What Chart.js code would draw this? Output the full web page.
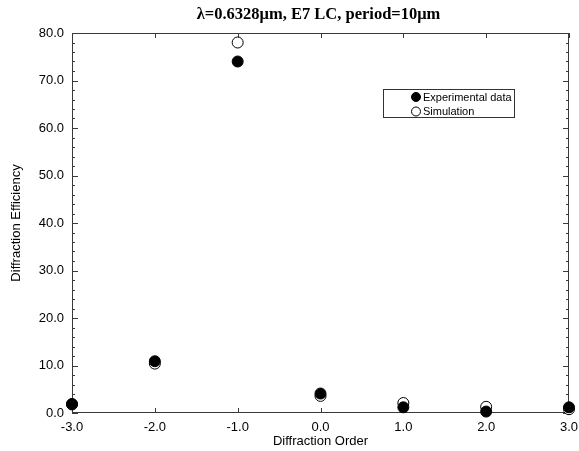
<!DOCTYPE html>
<html>
<head>
<meta charset="utf-8">
<script src="https://cdn.jsdelivr.net/npm/chart.js@4.4.1/dist/chart.umd.min.js"></script>
<style>
  html, body { margin: 0; padding: 0; background: #fff; }
  #wrap { width: 579px; height: 451px; }
</style>
</head>
<body>
<div id="wrap"><canvas id="c" width="579" height="451"></canvas></div>
<script>
// Diffraction orders and efficiencies (%)
const orders = [-3, -2, -1, 0, 1, 2, 3];
const experimental = [1.9, 10.9, 74.0, 4.1, 1.2, 0.3, 1.2];
const simulation = [1.8, 10.4, 78.0, 3.6, 2.1, 1.3, 0.8];

const seriesLabels = ['Experimental data', 'Simulation'];
const chartTitle = 'λ=0.6328μm, E7 LC, period=10μm';
const xTitle = 'Diffraction Order';
const yTitle = 'Diffraction Efficiency';

const xRange = [-3, 3];
const yRange = [0, 80];
const xStep = 1;
const yStep = 10;
const yMinorStep = 2;

const toPoints = vals => orders.map((o, i) => ({ x: o, y: vals[i] }));

const sansFont = "'Liberation Sans', Arial, sans-serif";

// Frame with inward-pointing ticks on all four sides
const framePlugin = {
  id: 'frame',
  beforeDatasetsDraw(chart) {
    const { ctx, chartArea: a, scales: { x, y } } = chart;
    ctx.save();
    ctx.strokeStyle = '#3a3a3a';
    ctx.lineWidth = 1;
    ctx.strokeRect(a.left + 0.5, a.top + 0.5, a.right - a.left - 1, a.bottom - a.top - 1);
    ctx.beginPath();
    for (let v = yRange[0]; v <= yRange[1] + 1e-9; v += yMinorStep) {
      const py = Math.round(y.getPixelForValue(v)) + 0.5;
      const len = (Math.abs(v % yStep) < 1e-9) ? 6 : 3;
      ctx.moveTo(a.left, py); ctx.lineTo(a.left + len, py);
      ctx.moveTo(a.right, py); ctx.lineTo(a.right - len, py);
    }
    for (let v = xRange[0]; v <= xRange[1] + 1e-9; v += xStep) {
      const px = Math.round(x.getPixelForValue(v)) + 0.5;
      ctx.moveTo(px, a.bottom); ctx.lineTo(px, a.bottom - 5);
      ctx.moveTo(px, a.top); ctx.lineTo(px, a.top + 5);
    }
    ctx.stroke();
    ctx.restore();
  }
};

// Title centred over the plotting area
const titlePlugin = {
  id: 'areaTitle',
  afterDraw(chart) {
    const { ctx, chartArea: a } = chart;
    ctx.save();
    ctx.fillStyle = '#000';
    ctx.font = "bold 16.5px 'Liberation Serif', 'Times New Roman', serif";
    ctx.textAlign = 'center';
    ctx.textBaseline = 'middle';
    ctx.fillText(chartTitle, (a.left + a.right) / 2 - 2, 15);
    ctx.restore();
  }
};

// Boxed legend inside the plotting area
const boxLegendPlugin = {
  id: 'boxLegend',
  afterDraw(chart, args, opts) {
    const { ctx } = chart;
    const b = opts.box;
    ctx.save();
    ctx.fillStyle = '#fff';
    ctx.fillRect(b.x, b.y, b.w, b.h);
    ctx.strokeStyle = '#333';
    ctx.lineWidth = 1;
    ctx.strokeRect(b.x + 0.5, b.y + 0.5, b.w, b.h);
    ctx.font = "11px " + sansFont;
    ctx.textBaseline = 'middle';
    ctx.textAlign = 'left';
    chart.data.datasets.forEach((ds, i) => {
      const cy = b.y + 8 + i * 14.5;
      ctx.beginPath();
      ctx.arc(b.markerX, cy, 4.5, 0, Math.PI * 2);
      ctx.fillStyle = ds.backgroundColor;
      ctx.fill();
      ctx.strokeStyle = ds.borderColor;
      ctx.lineWidth = 1;
      ctx.stroke();
      ctx.fillStyle = '#000';
      ctx.fillText(ds.label, b.markerX + 7, cy + 0.5);
    });
    ctx.restore();
  }
};

// Keep the plotting area fixed regardless of label overhang
const noOverhang = s => {
  s.paddingLeft = 0; s.paddingRight = 0; s.paddingTop = 0; s.paddingBottom = 0;
};

new Chart(document.getElementById('c'), {
  type: 'scatter',
  data: {
    datasets: [
      {
        label: seriesLabels[0],
        data: toPoints(experimental),
        backgroundColor: '#000',
        borderColor: '#000',
        borderWidth: 1,
        pointRadius: 5.5,
        pointHoverRadius: 5.5,
        clip: false
      },
      {
        label: seriesLabels[1],
        data: toPoints(simulation),
        backgroundColor: '#fff',
        borderColor: '#000',
        borderWidth: 1,
        pointRadius: 5.5,
        pointHoverRadius: 5.5,
        clip: false
      }
    ]
  },
  options: {
    responsive: false,
    animation: false,
    devicePixelRatio: 1,
    layout: { padding: { top: 33, right: 10, bottom: 0, left: 0 } },
    plugins: {
      legend: { display: false },
      title: { display: false },
      tooltip: { enabled: false },
      boxLegend: { box: { x: 383, y: 89, w: 131, h: 28, markerX: 416 } }
    },
    scales: {
      x: {
        type: 'linear',
        min: xRange[0],
        max: xRange[1],
        grid: { display: false, drawTicks: false },
        border: { display: false },
        ticks: {
          stepSize: xStep,
          padding: 7,
          color: '#000',
          font: { family: sansFont, size: 13 },
          maxRotation: 0,
          callback: v => v.toFixed(1)
        },
        title: {
          display: true,
          text: xTitle,
          color: '#000',
          font: { family: sansFont, size: 13 },
          padding: { top: 0, bottom: 2 }
        },
        afterFit: s => { s.height = 38; noOverhang(s); }
      },
      y: {
        type: 'linear',
        min: yRange[0],
        max: yRange[1],
        grid: { display: false, drawTicks: false },
        border: { display: false },
        ticks: {
          stepSize: yStep,
          padding: 8,
          color: '#000',
          font: { family: sansFont, size: 13 },
          callback: v => v.toFixed(1)
        },
        title: {
          display: true,
          text: yTitle,
          color: '#000',
          font: { family: sansFont, size: 13 },
          padding: { top: 9, bottom: 0 }
        },
        afterFit: s => { s.width = 72; noOverhang(s); }
      }
    }
  },
  plugins: [framePlugin, titlePlugin, boxLegendPlugin]
});
</script>
</body>
</html>
